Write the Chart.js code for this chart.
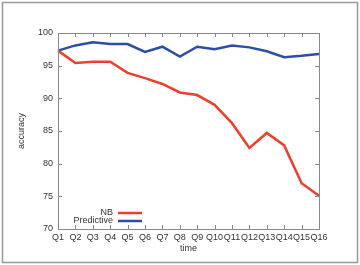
<!DOCTYPE html>
<html>
<head>
<meta charset="utf-8">
<script src="https://cdn.jsdelivr.net/npm/chart.js@4.4.0/dist/chart.umd.min.js"></script>
<style>
    html, body { margin: 0; padding: 0; background: #fff; }
    #wrap { width: 360px; height: 265px; position: relative; }
</style>
</head>
<body>
<div id="wrap"><canvas id="chart" width="360" height="265"></canvas></div>
<script>
// data
const quarters = ['Q1', 'Q2', 'Q3', 'Q4', 'Q5', 'Q6', 'Q7', 'Q8', 'Q9', 'Q10', 'Q11', 'Q12', 'Q13', 'Q14', 'Q15', 'Q16'];
const nbAccuracy = [97.3, 95.4, 95.6, 95.6, 93.9, 93.1, 92.2, 90.9, 90.5, 89.0, 86.2, 82.4, 84.7, 82.8, 77.0, 75.1];
const predictiveAccuracy = [97.3, 98.1, 98.6, 98.3, 98.3, 97.1, 97.9, 96.4, 97.9, 97.5, 98.1, 97.8, 97.2, 96.3, 96.5, 96.8];
const yTicks = [70, 75, 80, 85, 90, 95, 100];

const font = '"Liberation Sans", Arial, sans-serif';
const textColor = '#333';
const frameColor = '#888';

// gnuplot-ish frame, inward ticks, axis titles and the in-plot key
const framePlugin = {
    id: 'frame',
    afterDraw(chart) {
        const c = chart.ctx;
        const a = chart.chartArea;
        const xs = chart.scales.x;
        const ys = chart.scales.y;
        c.save();

        // outer picture border
        c.strokeStyle = '#999';
        c.lineWidth = 1.5;
        c.strokeRect(2.5, 2.5, 355, 260);

        // plot border
        c.strokeStyle = frameColor;
        c.lineWidth = 1;
        c.strokeRect(a.left + 0.5, a.top + 0.5, a.right - a.left, a.bottom - a.top);

        // ticks pointing in, on all four sides
        c.beginPath();
        quarters.forEach((q, i) => {
            const x = Math.round(xs.getPixelForValue(i)) + 0.5;
            c.moveTo(x, a.bottom); c.lineTo(x, a.bottom - 4);
            c.moveTo(x, a.top); c.lineTo(x, a.top + 4);
        });
        yTicks.forEach(v => {
            const y = Math.round(ys.getPixelForValue(v)) + 0.5;
            c.moveTo(a.left, y); c.lineTo(a.left + 4, y);
            c.moveTo(a.right, y); c.lineTo(a.right - 4, y);
        });
        c.stroke();

        // axis titles
        c.fillStyle = textColor;
        c.font = '9px ' + font;
        c.textAlign = 'center';
        c.textBaseline = 'middle';
        c.fillText('time', (a.left + a.right) / 2, 249);
        c.save();
        c.translate(22, (a.top + a.bottom) / 2);
        c.rotate(-Math.PI / 2);
        c.fillText('accuracy', 0, 0);
        c.restore();

        // key
        c.textAlign = 'right';
        chart.data.datasets.forEach((ds, i) => {
            const y = 213 + i * 8;
            c.fillStyle = textColor;
            c.fillText(ds.label, 113, y);
            c.strokeStyle = ds.borderColor;
            c.lineWidth = 2.5;
            c.beginPath();
            c.moveTo(118, y);
            c.lineTo(142, y);
            c.stroke();
        });
        c.restore();
    }
};

const ctx = document.getElementById('chart').getContext('2d');
const chart = new Chart(ctx, {
    type: 'line',
    data: {
        labels: quarters,
        datasets: [{
            label: 'NB',
            data: nbAccuracy,
            borderColor: '#ee3f2c',
            borderWidth: 2.5,
            pointRadius: 0,
            tension: 0
        }, {
            label: 'Predictive',
            data: predictiveAccuracy,
            borderColor: '#2c4ea6',
            borderWidth: 2.5,
            pointRadius: 0,
            tension: 0
        }]
    },
    options: {
        responsive: false,
        animation: false,
        layout: { padding: { left: 0, right: 41, top: 33, bottom: 0 } },
        plugins: {
            legend: { display: false },
            tooltip: { enabled: false }
        },
        scales: {
            x: {
                type: 'category',
                offset: false,
                grid: { display: false, drawTicks: false },
                border: { display: false },
                ticks: {
                    color: textColor,
                    font: { family: font, size: 9 },
                    padding: 3,
                    maxRotation: 0,
                    autoSkip: false
                },
                afterFit: s => { s.height = 36; }
            },
            y: {
                min: 70,
                max: 100,
                grid: { display: false, drawTicks: false },
                border: { display: false },
                afterBuildTicks: s => { s.ticks = yTicks.map(v => ({ value: v })); },
                ticks: {
                    color: textColor,
                    font: { family: font, size: 9 },
                    padding: 5
                },
                afterFit: s => { s.width = 58; }
            }
        }
    },
    plugins: [framePlugin]
});
</script>
</body>
</html>
